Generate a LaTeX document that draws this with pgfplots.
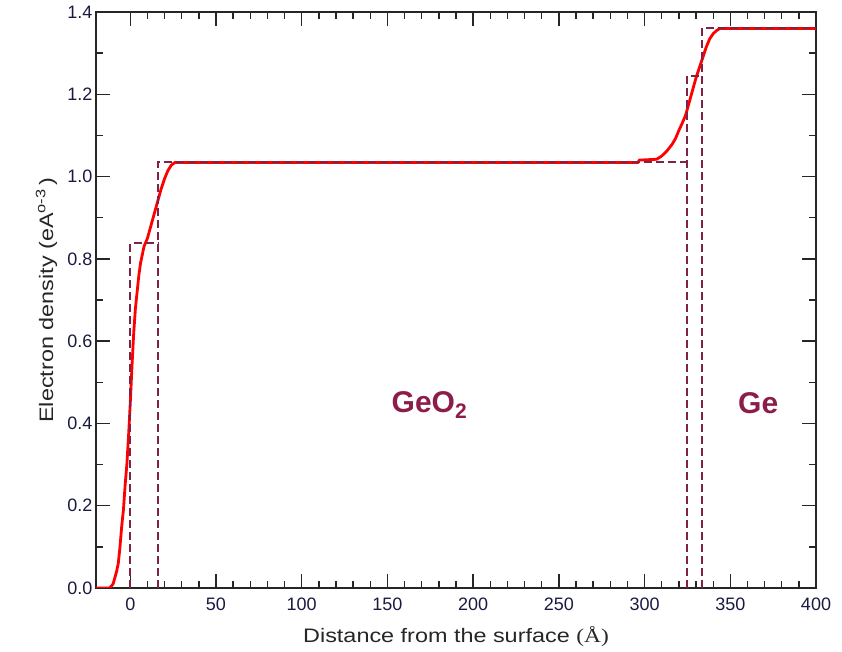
\documentclass[border=0pt]{standalone}
\usepackage{fontspec}
\setmainfont{Liberation Sans}
\newfontfamily\seriffont{Liberation Serif}
\usepackage{graphicx}
\usepackage{pgfplots}
\pgfplotsset{compat=1.18}
\usetikzlibrary{calc}
\definecolor{lblmaroon}{HTML}{8C1D4A}
\definecolor{dashmaroon}{HTML}{7D2348}
\definecolor{tickcol}{HTML}{1A1A40}
\begin{document}
\begin{tikzpicture}
\begin{axis}[name=ax, scale only axis, width=720pt, height=576pt,
  xmin=-20, xmax=400, ymin=0, ymax=1.4,
  xtick={0,50,...,400}, minor x tick num=4,
  ytick={0,0.2,0.4,0.6,0.8,1.0,1.2,1.4}, minor y tick num=1,
  yticklabel style={/pgf/number format/fixed, /pgf/number format/fixed zerofill, /pgf/number format/precision=1},
  xticklabel style={/pgf/number format/fixed},
  tick align=inside, xtick pos=both, ytick pos=both,
  major tick length=14pt, minor tick length=7pt,
  every tick/.style={line width=1.3pt, black!85},
  axis line style={line width=1.4pt, black!85},
  ticklabel style={font=\fontsize{18}{20}\selectfont, color=tickcol},
  /pgf/number format/assume math mode=true,
  xticklabel style={yshift=-6pt},
  xlabel={\scalebox{1.2}[1]{Distance from the surface {\seriffont(Å)}}},
  ylabel={\scalebox{1.2}[1]{Electron density (eA\textsuperscript{o-3}\,)}},
  label style={font=\fontsize{19.5}{22}\selectfont, color=black!85},
  xlabel style={at={(axis description cs:0.5,0)}, anchor=base, yshift=-54pt},
  ylabel style={at={(axis description cs:-0.0597,0.5)}, anchor=base},
  clip=true,
]
\addplot[red, line width=2.8pt] coordinates {
(-20,0) (-12,0) (-10,0.01) (-8,0.04) (-7,0.06) (-6,0.10) (-5,0.15) (-4,0.19)
(-3,0.25) (-2,0.30) (-1,0.37) (0,0.45) (1,0.54) (2,0.62) (3,0.68) (4,0.72)
(5,0.76) (6,0.79) (7,0.81) (8,0.83) (10,0.85) (12,0.88) (14,0.91) (16,0.94)
(18,0.97) (20,0.995) (22,1.015) (24,1.028) (26,1.034) (296,1.034) (297,1.040)
(307,1.042) (310,1.050) (313,1.062) (316,1.078) (318,1.092) (320,1.112)
(322,1.13) (324,1.15) (326,1.18) (328,1.21) (330,1.24) (332,1.265) (334,1.29)
(336,1.315) (338,1.335) (340,1.347) (342,1.355) (344,1.360) (400,1.360)
};
\addplot[dashmaroon, line width=1.8pt, dash pattern=on 8pt off 4pt] coordinates {(0,0) (0,0.838) (16.2,0.838)};
\addplot[dashmaroon, line width=1.8pt, dash pattern=on 8pt off 4pt] coordinates {(16.2,0) (16.2,1.035) (324.6,1.035)};
\addplot[dashmaroon, line width=1.8pt, dash pattern=on 8pt off 4pt] coordinates {(324.6,0) (324.6,1.245) (333.7,1.245)};
\addplot[dashmaroon, line width=1.8pt, dash pattern=on 8pt off 4pt] coordinates {(333.7,0) (333.7,1.362) (400,1.362)};
\node[anchor=base, text=lblmaroon, font=\bfseries\fontsize{30}{34}\selectfont] at (axis cs:174.5,0.427) {GeO\textsubscript{2}};
\node[anchor=base, text=lblmaroon, font=\bfseries\fontsize{30}{34}\selectfont] at (axis cs:366.3,0.425) {Ge};
\end{axis}
\pgfresetboundingbox
\path[use as bounding box] ($(ax.south west)+(-96pt,-64pt)$) rectangle ($(ax.north east)+(26pt,12pt)$);
\end{tikzpicture}
\end{document}
